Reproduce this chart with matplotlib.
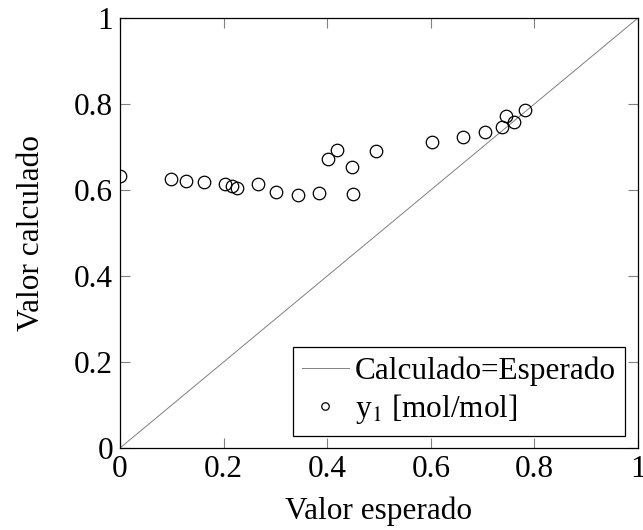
import matplotlib
matplotlib.use("Agg")
from matplotlib import pyplot as plt

# valores
esperado = [0.0, 0.098, 0.127, 0.163, 0.203, 0.216, 0.226, 0.267, 0.301, 0.343,
            0.385, 0.401, 0.418, 0.447, 0.450, 0.494, 0.603, 0.662, 0.705, 0.738,
            0.745, 0.760, 0.781]
calculado = [0.633, 0.625, 0.622, 0.619, 0.613, 0.609, 0.605, 0.613, 0.595, 0.588,
             0.592, 0.671, 0.693, 0.654, 0.590, 0.691, 0.712, 0.723, 0.736, 0.746,
             0.772, 0.758, 0.785]
diagonal = [0, 1]
ticks = [0, 0.2, 0.4, 0.6, 0.8, 1]
tick_labels = ["0", "0.2", "0.4", "0.6", "0.8", "1"]

plt.rcParams["font.family"] = ["Liberation Serif", "DejaVu Serif"]
plt.rcParams["mathtext.fontset"] = "stix"
fs = 22.5

fig = plt.figure(figsize=(6.43, 5.30), dpi=100)
ax = fig.add_axes([0.1866, 0.1547, 0.8056, 0.8113])

ax.plot(diagonal, diagonal, color="gray", lw=0.7, label="Calculado=Esperado")
ax.plot(esperado, calculado, "o", ls="none", mfc="none", mec="black", mew=0.9,
        ms=9, label="y$_1$ [mol/mol]")

ax.set_xlim(0, 1)
ax.set_ylim(0, 1)
ax.set_xticks(ticks, tick_labels)
ax.set_yticks(ticks, tick_labels)
ax.tick_params(direction="in", length=7, width=0.8, color="gray", labelsize=fs,
               top=True, right=True, pad=5)
for s in ax.spines.values():
    s.set_linewidth(0.9)

ax.set_xlabel("Valor esperado", fontsize=fs, labelpad=9)
ax.set_ylabel("Valor calculado", fontsize=fs, labelpad=20)

leg = ax.legend(loc="lower right", fontsize=fs, frameon=True, fancybox=False,
                edgecolor="black", framealpha=1, borderpad=0.3, labelspacing=0.2,
                handlelength=1.5, handletextpad=0.2, borderaxespad=0.4,
                markerscale=0.6)
leg.get_frame().set_linewidth(0.9)

fig.savefig("out.png", dpi=100)
